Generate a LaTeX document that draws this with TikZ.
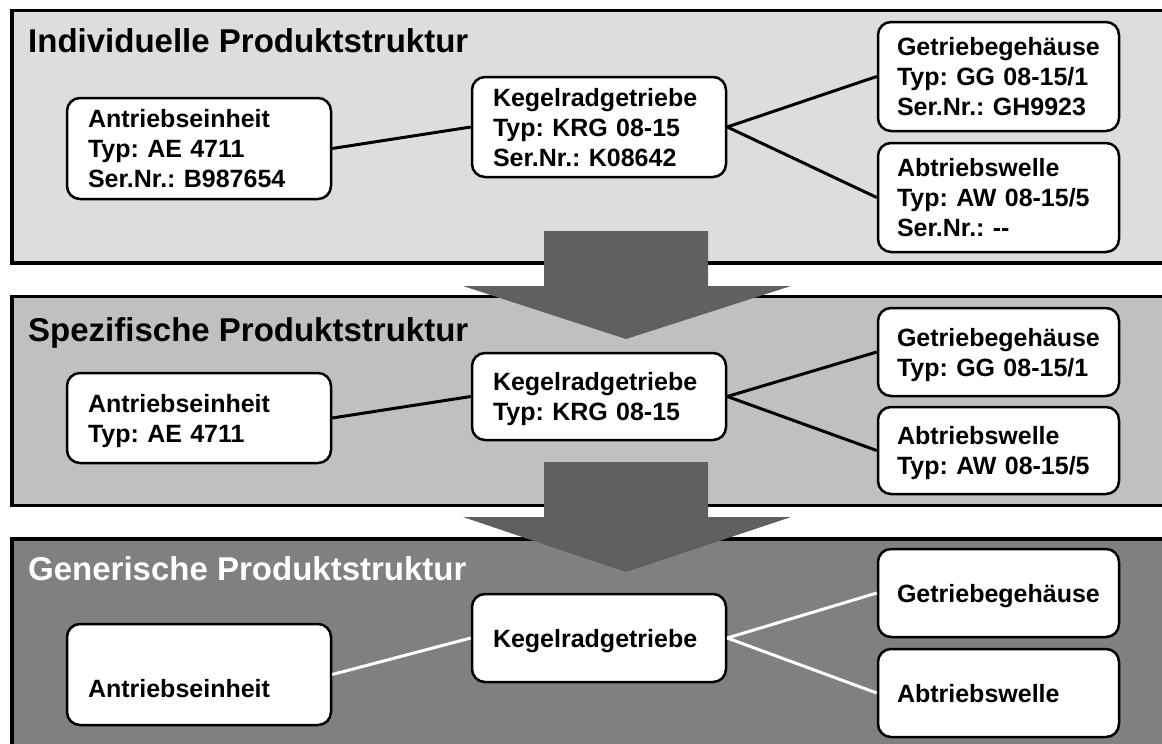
\documentclass[tikz,border=0pt]{standalone}
\usepackage{fontspec}
\setmainfont{Liberation Sans}
\frenchspacing
\definecolor{paneltop}{HTML}{DDDDDD}
\definecolor{panelmid}{HTML}{C0C0C0}
\definecolor{panellow}{HTML}{808080}
\definecolor{flowgray}{HTML}{606060}
\tikzset{
  panel/.style={draw=black, line width=3.5pt},
  heading/.style={anchor=base west, inner sep=0pt, font=\bfseries\fontsize{33}{36}\selectfont},
  part/.style={draw=black, line width=2.5pt, fill=white, rounded corners=13pt,
    align=left, inner ysep=0pt, text height=18pt,
    font=\bfseries\frenchspacing\fontsize{25}{30}\selectfont},
  unitbox/.style={part, text width=222pt, inner xsep=21pt},
  gearbox/.style={part, text width=212pt, inner xsep=21pt},
  leafbox/.style={part, text width=203pt, inner xsep=19pt},
  oneline/.style={text depth=0pt},
  twolines/.style={text depth=30pt},
  threelines/.style={text depth=60pt},
  link/.style={line width=3pt, draw=black},
  whitelink/.style={line width=3pt, draw=white},
  flow/.style={fill=flowgray, draw=none},
}
\begin{document}
\begin{tikzpicture}[x=1pt, y=-1pt]
\useasboundingbox (0,0) rectangle (1162,744);

% three levels of the product structure
\fill[white] (0,0) rectangle (1162,744);
\draw[panel, fill=paneltop] (12,10.5) rectangle (1185,263);
\draw[panel, fill=panelmid] (12,296.5) rectangle (1185,505.5);
\draw[panel, fill=panellow] (12,539) rectangle (1185,760);

\node[heading] (T1) at (28,52) {Individuelle Produktstruktur};
\node[heading] (T2) at (28,341) {Spezifische Produktstruktur};
\node[heading, text=white] (T3) at (28,580) {Generische Produktstruktur};

% individual structure
\node[unitbox, threelines, minimum height=101pt] (A1) at (199,148.5)
  {Antriebseinheit\\Typ: AE 4711\\Ser.Nr.: B987654};
\node[gearbox, threelines, minimum height=100pt] (K1) at (599,127)
  {Kegelradgetriebe\\Typ: KRG 08-15\\Ser.Nr.: K08642};
\node[leafbox, threelines, minimum height=109pt] (G1) at (998.5,76.5)
  {Getriebegehäuse\\Typ: GG 08-15/1\\Ser.Nr.: GH9923};
\node[leafbox, threelines, minimum height=109pt] (W1) at (998.5,197.5)
  {Abtriebswelle\\Typ: AW 08-15/5\\Ser.Nr.: -{}-};
\draw[link] (A1.east) -- (K1.west);
\draw[link] (K1.east) -- (G1.west);
\draw[link] (K1.east) -- (W1.west);

% specific structure
\node[unitbox, twolines, minimum height=90pt] (A2) at (199,418)
  {Antriebseinheit\\Typ: AE 4711};
\node[gearbox, twolines, minimum height=87pt] (K2) at (599,396.5)
  {Kegelradgetriebe\\Typ: KRG 08-15};
\node[leafbox, twolines, minimum height=88pt] (G2) at (998.5,352)
  {Getriebegehäuse\\Typ: GG 08-15/1};
\node[leafbox, twolines, minimum height=87pt] (W2) at (998.5,450.5)
  {Abtriebswelle\\Typ: AW 08-15/5};
\draw[link] (A2.east) -- (K2.west);
\draw[link] (K2.east) -- (G2.west);
\draw[link] (K2.east) -- (W2.west);

% generic structure
\node[unitbox, oneline, text height=45pt, minimum height=101pt] (A3) at (199,674.5)
  {Antriebseinheit};
\node[gearbox, oneline, minimum height=88pt] (K3) at (599,638)
  {Kegelradgetriebe};
\node[leafbox, oneline, minimum height=88pt] (G3) at (998.5,593)
  {Getriebegehäuse};
\node[leafbox, oneline, minimum height=88pt] (W3) at (998.5,693)
  {Abtriebswelle};
\draw[whitelink] (A3.east) -- (K3.west);
\draw[whitelink] (K3.east) -- (G3.west);
\draw[whitelink] (K3.east) -- (W3.west);

% block arrows between the levels
\fill[flow] (544,231) -- (708,231) -- (708,286) -- (791,286) -- (626,339)
  -- (463,286) -- (544,286) -- cycle;
\fill[flow] (544,462) -- (708,462) -- (708,517) -- (791,517) -- (626,572)
  -- (463,517) -- (544,517) -- cycle;
\end{tikzpicture}
\end{document}
